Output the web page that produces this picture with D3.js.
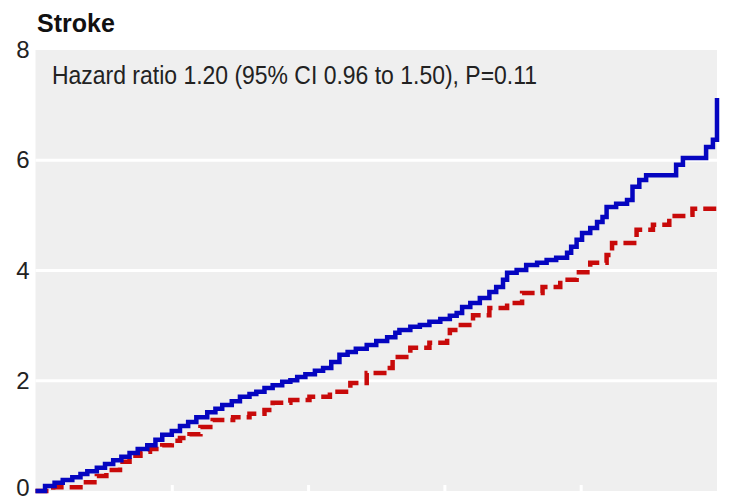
<!DOCTYPE html>
<html lang="en">
<head>
<meta charset="UTF-8">
<title>Stroke</title>
<script src="https://d3js.org/d3.v7.min.js"></script>
<style>
  body { margin: 0; background: #fff; }
  svg { display: block; }
</style>
</head>
<body>
<div id="chart"></div>
<script>
// cumulative incidence (%) by years of follow-up
const blueTime = [0, 0.07, 0.14, 0.20, 0.27, 0.33, 0.38, 0.45, 0.51, 0.57, 0.63, 0.69, 0.75, 0.82, 0.88, 0.93,
  1.00, 1.06, 1.12, 1.18, 1.26, 1.32, 1.37, 1.44, 1.50, 1.57, 1.62, 1.68, 1.74, 1.81, 1.87, 1.92, 1.98,
  2.05, 2.11, 2.17, 2.23, 2.29, 2.35, 2.43, 2.50, 2.58, 2.64, 2.67, 2.75, 2.82, 2.89, 2.97,
  3.04, 3.09, 3.13, 3.19, 3.26, 3.33, 3.38, 3.43, 3.46, 3.53, 3.60, 3.68, 3.75, 3.82, 3.90, 3.93, 3.97,
  4.01, 4.07, 4.12, 4.16, 4.19, 4.26, 4.34, 4.38, 4.43, 4.48, 4.70, 4.75, 4.92, 4.97, 4.99, 5.00];
const blueValue = [0, 0.09, 0.15, 0.20, 0.25, 0.31, 0.36, 0.42, 0.49, 0.56, 0.62, 0.69, 0.76, 0.83, 0.93, 1.02,
  1.09, 1.18, 1.25, 1.34, 1.43, 1.49, 1.56, 1.63, 1.71, 1.76, 1.80, 1.87, 1.92, 1.98, 2.01, 2.07, 2.12,
  2.18, 2.23, 2.34, 2.47, 2.52, 2.58, 2.65, 2.72, 2.79, 2.87, 2.92, 2.98, 3.01, 3.07, 3.12,
  3.18, 3.23, 3.34, 3.41, 3.50, 3.61, 3.70, 3.83, 3.96, 4.01, 4.10, 4.14, 4.19, 4.23, 4.32, 4.43, 4.56,
  4.68, 4.77, 4.88, 4.97, 5.15, 5.21, 5.28, 5.52, 5.64, 5.73, 5.92, 6.04, 6.24, 6.37, 6.37, 7.13];

const redTime = [0, 0.13, 0.33, 0.45, 0.52, 0.62, 0.69, 0.77, 0.84, 0.93, 1.00, 1.06, 1.13, 1.21, 1.30, 1.45,
  1.57, 1.68, 1.74, 1.87, 2.01, 2.16, 2.31, 2.43, 2.58, 2.62, 2.75, 2.89, 3.02, 3.04, 3.10, 3.21,
  3.33, 3.46, 3.57, 3.72, 3.85, 3.97, 4.07, 4.19, 4.23, 4.41, 4.53, 4.65, 4.80, 4.82, 5.00];
const redValue = [0, 0.07, 0.16, 0.27, 0.38, 0.53, 0.64, 0.71, 0.76, 0.83, 0.91, 0.96, 1.03, 1.16, 1.29, 1.34,
  1.40, 1.47, 1.60, 1.65, 1.71, 1.80, 1.96, 2.14, 2.23, 2.43, 2.60, 2.69, 2.79, 2.92, 3.01, 3.19,
  3.32, 3.41, 3.59, 3.70, 3.83, 3.97, 4.14, 4.28, 4.50, 4.74, 4.83, 4.99, 5.01, 5.12, 5.12];

const yTicks = [0, 2, 4, 6, 8];
const xTicks = [1, 2, 3, 4];
const title = "Stroke";
const note = "Hazard ratio 1.20 (95% CI 0.96 to 1.50), P=0.11";

const W = 744, H = 501;
const plotLeft = 35.5, plotRight = 717, plotTop = 50, plotBottom = 491;

const svg = d3.select("#chart").append("svg")
  .attr("width", W).attr("height", H);

const x = d3.scaleLinear().domain([0, 5]).range([plotLeft, plotRight]);
const y = d3.scaleLinear().domain([0, 8]).range([plotBottom, plotTop]);

svg.append("rect")
  .attr("x", plotLeft).attr("y", plotTop)
  .attr("width", plotRight - plotLeft).attr("height", plotBottom - plotTop)
  .attr("fill", "#efefef");

// horizontal gridlines
svg.selectAll(".grid")
  .data(yTicks.filter(d => d > 0 && d < 8))
  .enter().append("line")
  .attr("x1", plotLeft).attr("x2", plotRight)
  .attr("y1", d => y(d)).attr("y2", d => y(d))
  .attr("stroke", "#fff").attr("stroke-width", 3);

// small white ticks at the bottom
const xAxis = svg.append("g")
  .attr("transform", `translate(0,${plotBottom})`)
  .call(d3.axisBottom(x).tickValues(xTicks).tickSize(-6).tickFormat(""));
xAxis.select(".domain").remove();
xAxis.selectAll(".tick line").attr("stroke", "#fff").attr("stroke-width", 3);

const yAxis = svg.append("g")
  .attr("transform", `translate(${plotLeft},0)`)
  .call(d3.axisLeft(y).tickValues(yTicks).tickSize(0).tickPadding(6));
yAxis.select(".domain").remove();
yAxis.selectAll("text")
  .attr("font-family", "'Liberation Sans', Arial, sans-serif")
  .attr("font-size", 24)
  .attr("fill", "#222");
// keep the bottom label inside the frame
yAxis.selectAll(".tick").filter(d => d === 0).select("text").attr("dy", "0.2em");

const line = d3.line()
  .x(d => x(d[0]))
  .y(d => y(d[1]))
  .curve(d3.curveStepAfter);

svg.append("path")
  .datum(d3.zip(redTime, redValue))
  .attr("d", line)
  .attr("fill", "none")
  .attr("stroke", "#c80a0a")
  .attr("stroke-width", 4.5)
  .attr("stroke-dasharray", "13,6");

svg.append("path")
  .datum(d3.zip(blueTime, blueValue))
  .attr("d", line)
  .attr("fill", "none")
  .attr("stroke", "#0505c0")
  .attr("stroke-width", 4.5);

svg.append("text")
  .attr("x", 37).attr("y", 32)
  .attr("font-family", "'Liberation Sans', Arial, sans-serif")
  .attr("font-weight", "bold")
  .attr("font-size", 25)
  .attr("fill", "#111")
  .text(title);

const noteText = svg.append("text")
  .attr("x", 52).attr("y", 84)
  .attr("font-family", "'Liberation Sans Narrow', 'Liberation Sans', Arial, sans-serif")
  .attr("font-size", 25)
  .attr("fill", "#222")
  .text(note);
noteText.attr("textLength", 485).attr("lengthAdjust", "spacingAndGlyphs");
</script>
</body>
</html>
